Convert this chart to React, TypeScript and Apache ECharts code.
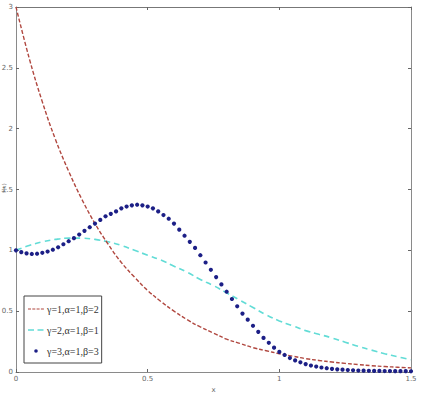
import React, { useEffect, useRef } from "react";
import * as echarts from "echarts";

const xA: number[] = [0, 0.05, 0.1, 0.15, 0.2, 0.25, 0.3, 0.35, 0.4, 0.45, 0.5, 0.55, 0.6, 0.65, 0.7, 0.75, 0.8, 0.85, 0.9, 0.95, 1.0, 1.05, 1.1, 1.15, 1.2, 1.25, 1.3, 1.35, 1.4, 1.45, 1.5];
const redY: number[] = [3.0, 2.58, 2.22, 1.91, 1.65, 1.42, 1.22, 1.05, 0.9, 0.78, 0.67, 0.58, 0.5, 0.43, 0.37, 0.32, 0.27, 0.235, 0.2, 0.175, 0.15, 0.13, 0.11, 0.095, 0.082, 0.071, 0.061, 0.052, 0.045, 0.039, 0.034];
const cyanY: number[] = [1.0, 1.04, 1.07, 1.09, 1.1, 1.1, 1.09, 1.07, 1.04, 1.0, 0.96, 0.92, 0.87, 0.82, 0.76, 0.71, 0.65, 0.59, 0.53, 0.47, 0.42, 0.38, 0.34, 0.31, 0.28, 0.245, 0.21, 0.18, 0.15, 0.125, 0.1];

const xB: number[] = [0, 0.02, 0.04, 0.06, 0.08, 0.1, 0.12, 0.14, 0.16, 0.18, 0.2, 0.22, 0.24, 0.26, 0.28, 0.3, 0.32, 0.34, 0.36, 0.38, 0.4, 0.42, 0.44, 0.46, 0.48, 0.5, 0.52, 0.54, 0.56, 0.58, 0.6, 0.62, 0.64, 0.66, 0.68, 0.7, 0.72, 0.74, 0.76, 0.78, 0.8, 0.82, 0.84, 0.86, 0.88, 0.9, 0.92, 0.94, 0.96, 0.98, 1.0, 1.02, 1.04, 1.06, 1.08, 1.1, 1.12, 1.14, 1.16, 1.18, 1.2, 1.22, 1.24, 1.26, 1.28, 1.3, 1.32, 1.34, 1.36, 1.38, 1.4, 1.42, 1.44, 1.46, 1.48, 1.5];
const blueY: number[] = [1.0, 0.985, 0.975, 0.97, 0.972, 0.98, 0.99, 1.005, 1.025, 1.05, 1.075, 1.1, 1.13, 1.16, 1.19, 1.22, 1.25, 1.28, 1.3, 1.32, 1.345, 1.36, 1.37, 1.375, 1.37, 1.36, 1.345, 1.32, 1.29, 1.26, 1.22, 1.17, 1.12, 1.07, 1.02, 0.96, 0.9, 0.84, 0.78, 0.72, 0.66, 0.6, 0.54, 0.48, 0.43, 0.38, 0.33, 0.28, 0.24, 0.2, 0.165, 0.14, 0.115, 0.095, 0.08, 0.065, 0.053, 0.045, 0.037, 0.031, 0.026, 0.022, 0.019, 0.016, 0.014, 0.012, 0.011, 0.01, 0.009, 0.009, 0.008, 0.008, 0.007, 0.007, 0.007, 0.006];

const names: string[] = ["γ=1,α=1,β=2", "γ=2,α=1,β=1", "γ=3,α=1,β=3"];
const yName = "f(x)";

const RED = "#b0473f";
const CYAN = "#62dcd6";
const BLUE = "#1c1f86";

export default function App() {
  const ref = useRef<HTMLDivElement>(null);
  useEffect(() => {
    document.body.style.margin = "0";
    const chart = echarts.init(ref.current!, null, { renderer: "svg" });
    const axisCommon = {
      type: "value" as const,
      axisLine: { show: true, onZero: false, lineStyle: { color: "#8a8a8a", width: 1 } },
      axisTick: { show: true, inside: true, length: 3, lineStyle: { color: "#666" } },
      splitLine: { show: false },
    };
    const labelStyle = { color: "#666", fontSize: 7, fontFamily: "DejaVu Sans" };
    chart.setOption({
      animation: false,
      backgroundColor: "#fff",
      grid: { left: 16, right: 10, top: 7, bottom: 26, show: false, containLabel: false, outerBoundsMode: "none" },
      graphic: [
        {
          type: "text", x: 3.5, y: 188, rotation: Math.PI / 2,
          style: { text: yName, fill: "#777", fontSize: 5.5, fontFamily: "DejaVu Sans", align: "center", verticalAlign: "middle" },
        },
      ],
      xAxis: [
        {
          ...axisCommon,
          min: 0, max: 1.5, interval: 0.5, position: "bottom",
          axisLabel: { ...labelStyle, margin: 3 },
          name: "x", nameLocation: "middle", nameGap: 12,
          nameTextStyle: { color: "#666", fontSize: 7, fontFamily: "DejaVu Sans" },
        },
        {
          ...axisCommon,
          min: 0, max: 1.5, interval: 0.5, position: "top",
          axisLine: { show: true, onZero: false, lineStyle: { color: "#777", width: 1.2 } },
          axisLabel: { show: false },
        },
      ],
      yAxis: [
        {
          ...axisCommon,
          min: 0, max: 3, interval: 0.5, position: "left",
          axisLabel: { ...labelStyle, margin: 3 },
        },
        {
          ...axisCommon,
          min: 0, max: 3, interval: 0.5, position: "right",
          axisLabel: { show: false },
        },
      ],
      legend: {
        left: 24, top: 296, orient: "vertical",
        itemWidth: 16, itemHeight: 10, itemGap: 11,
        padding: [8, 3, 7, 4],
        borderColor: "#444", borderWidth: 1, borderRadius: 0,
        backgroundColor: "#fff",
        textStyle: { fontFamily: "Liberation Serif", fontSize: 10, color: "#333", padding: [0, 0, 0, -2] },
        data: [
          { name: names[0], icon: "path://M0,0 M16,10 M0,4.4 h3 v1.2 h-3z M4.3,4.4 h3 v1.2 h-3z M8.6,4.4 h3 v1.2 h-3z M12.9,4.4 h3 v1.2 h-3z", itemStyle: { color: RED } },
          { name: names[1], icon: "path://M0,0 M16,10 M0,4.3 h6 v1.4 h-6z M9.5,4.3 h6 v1.4 h-6z", itemStyle: { color: CYAN } },
          { name: names[2], icon: "path://M0,0 M16,10 M6.2,5 a1.8,1.8 0 1,0 3.6,0 a1.8,1.8 0 1,0 -3.6,0z", itemStyle: { color: BLUE } },
        ],
      },
      series: [
        {
          name: names[0], type: "line", showSymbol: false, symbol: "none",
          smooth: 0.4,
          data: xA.map((x, i) => [x, redY[i]]),
          lineStyle: { color: RED, width: 1.4, type: [4, 2] },
          itemStyle: { color: RED },
          z: 3,
        },
        {
          name: names[1], type: "line", showSymbol: false, symbol: "none",
          smooth: 0.4,
          data: xA.map((x, i) => [x, cyanY[i]]),
          lineStyle: { color: CYAN, width: 1.6, type: [6, 4] },
          itemStyle: { color: CYAN },
          z: 2,
        },
        {
          name: names[2], type: "scatter", symbol: "circle", symbolSize: 4.2,
          data: xB.map((x, i) => [x, blueY[i]]),
          itemStyle: { color: BLUE, opacity: 1 },
          z: 4,
        },
      ],
    });
    return () => chart.dispose();
  }, []);
  return <div ref={ref} style={{ width: 421, height: 398 }} />;
}
